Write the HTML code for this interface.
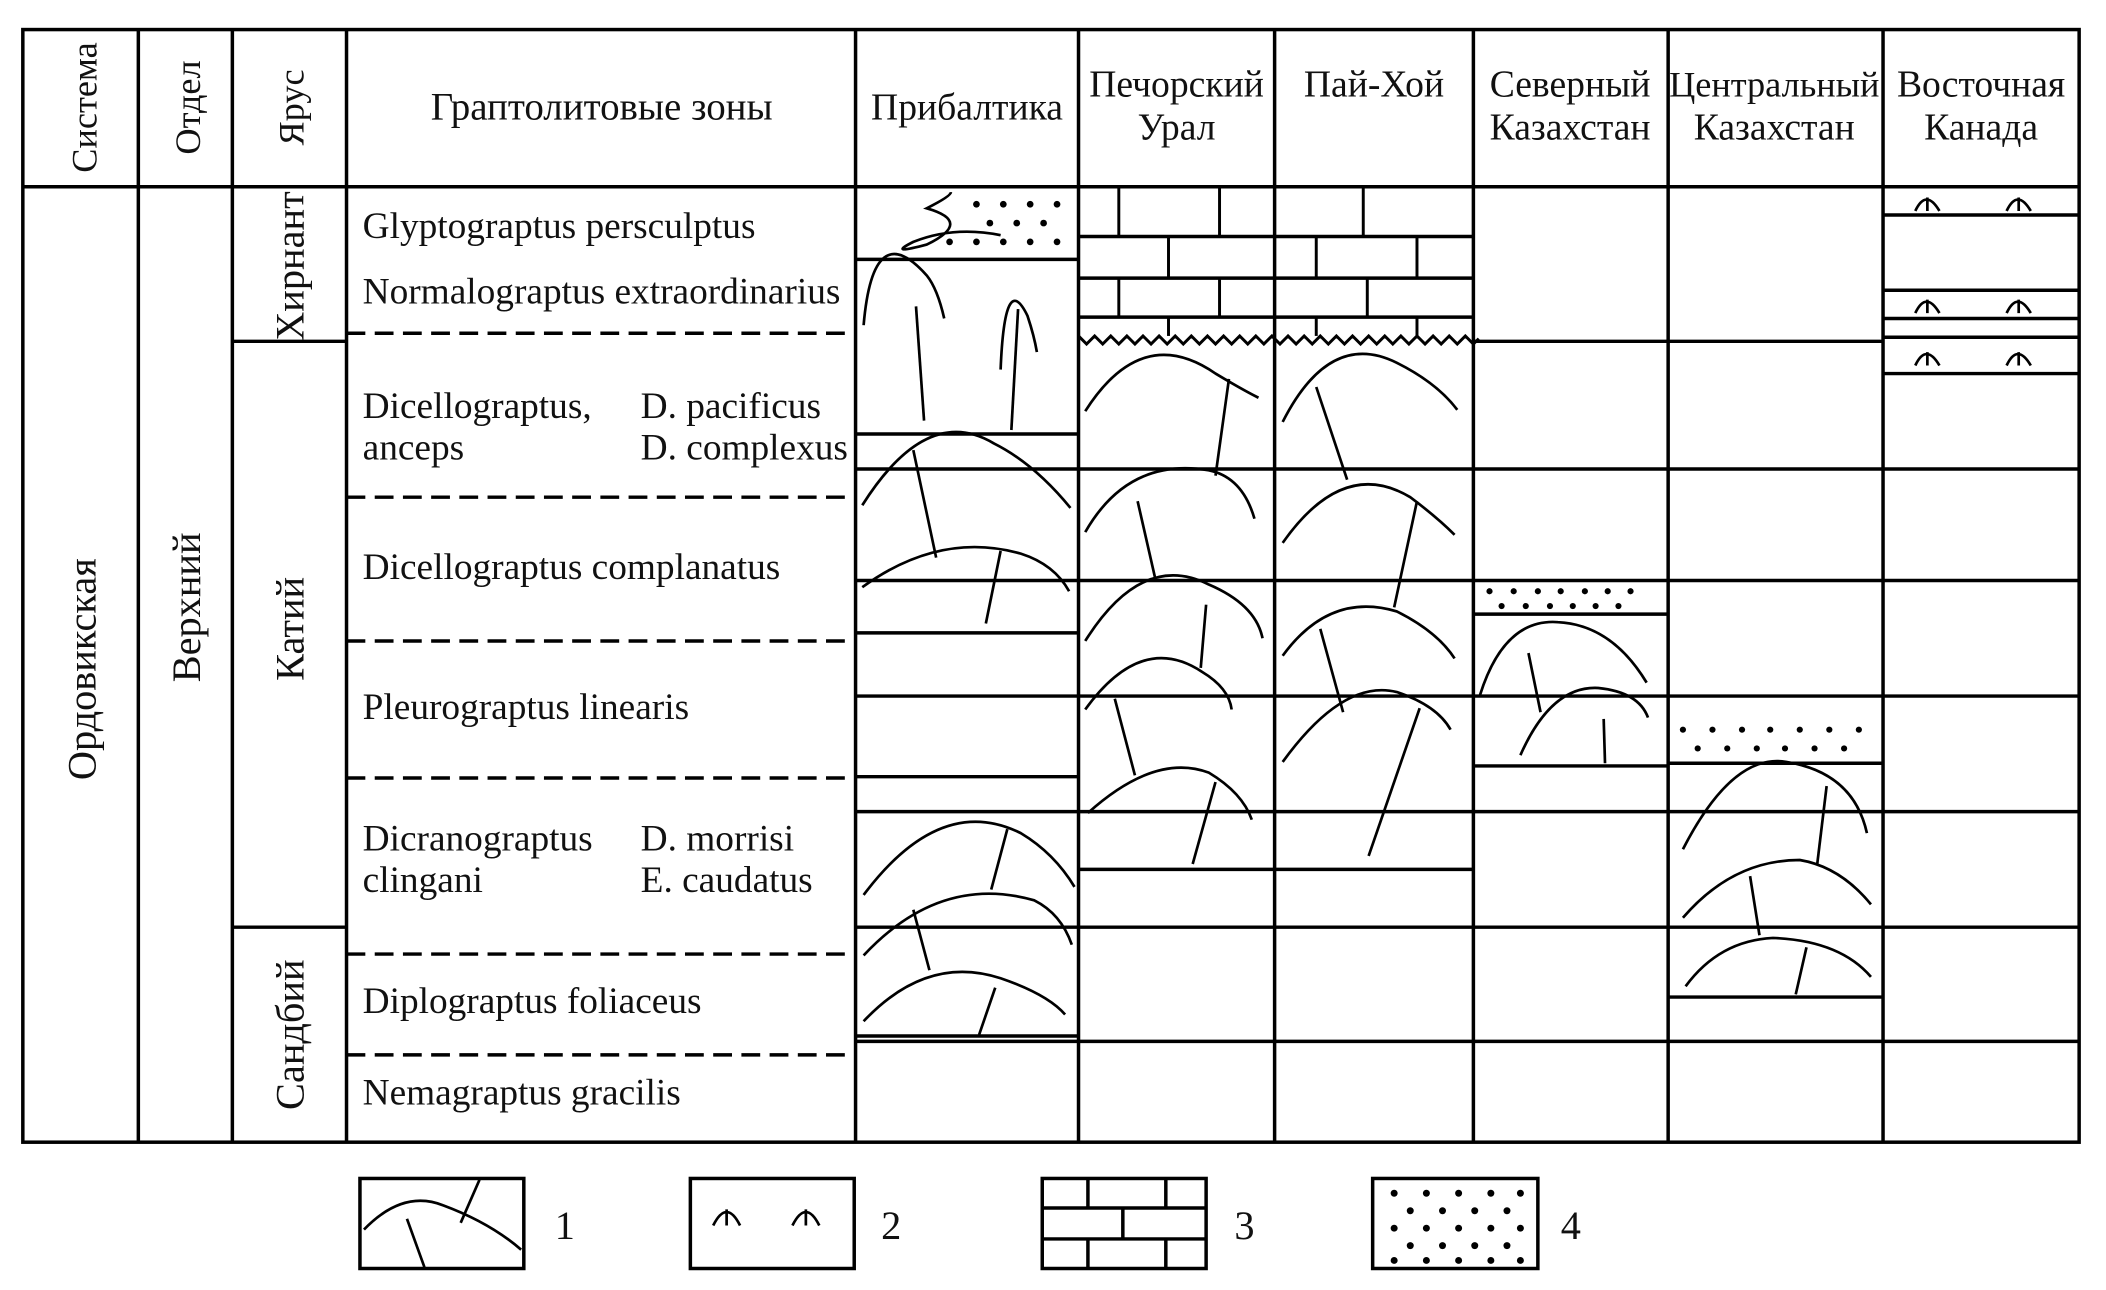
<!DOCTYPE html>
<html><head><meta charset="utf-8"><style>
html,body{margin:0;padding:0;background:#fff}
svg{display:block}
text{font-family:"Liberation Serif",serif;fill:#111}
</style></head><body>
<svg width="2106" height="1290" viewBox="0 0 1568 960" preserveAspectRatio="none" xmlns="http://www.w3.org/2000/svg">
<g stroke="#000" fill="none" stroke-width="2.6">
<rect x="17" y="22" width="1531" height="828"/>
<line x1="103" y1="22" x2="103" y2="850"/><line x1="173" y1="22" x2="173" y2="850"/>
<line x1="258" y1="22" x2="258" y2="850"/><line x1="637" y1="22" x2="637" y2="850"/>
<line x1="803" y1="22" x2="803" y2="850"/><line x1="949" y1="22" x2="949" y2="850"/>
<line x1="1097" y1="22" x2="1097" y2="850"/><line x1="1242" y1="22" x2="1242" y2="850"/>
<line x1="1402" y1="22" x2="1402" y2="850"/>
<line x1="17" y1="139" x2="1548" y2="139"/>
<line x1="173" y1="254" x2="258" y2="254"/><line x1="173" y1="690" x2="258" y2="690"/>
<line x1="803" y1="349" x2="1548" y2="349"/><line x1="637" y1="432" x2="1548" y2="432"/>
<line x1="803" y1="518" x2="1548" y2="518"/><line x1="637" y1="604" x2="1548" y2="604"/>
<line x1="803" y1="690" x2="1548" y2="690"/><line x1="637" y1="775" x2="1548" y2="775"/>
<line x1="1097" y1="254" x2="1402" y2="254"/>
<line x1="637" y1="193" x2="803" y2="193"/><line x1="637" y1="323" x2="803" y2="323"/>
<line x1="637" y1="349" x2="803" y2="349"/><line x1="637" y1="471" x2="803" y2="471"/>
<line x1="637" y1="518" x2="803" y2="518"/><line x1="637" y1="578" x2="803" y2="578"/>
<line x1="637" y1="690" x2="803" y2="690"/><line x1="637" y1="771" x2="803" y2="771"/>
<path d="M745 175 Q710 168 680 180 Q660 190 690 182 Q725 165 690 155 Q708 146 708 143" stroke-width="2"/>
<line x1="803" y1="176" x2="1097" y2="176"/><line x1="803" y1="207" x2="1097" y2="207"/><line x1="803" y1="236" x2="1097" y2="236"/>
<g stroke-width="2.2">
<line x1="833" y1="139" x2="833" y2="176"/><line x1="908" y1="139" x2="908" y2="176"/><line x1="1015" y1="139" x2="1015" y2="176"/>
<line x1="870" y1="176" x2="870" y2="207"/><line x1="980" y1="176" x2="980" y2="207"/><line x1="1055" y1="176" x2="1055" y2="207"/>
<line x1="833" y1="207" x2="833" y2="236"/><line x1="908" y1="207" x2="908" y2="236"/><line x1="1018" y1="207" x2="1018" y2="236"/>
<line x1="870" y1="236" x2="870" y2="250"/><line x1="980" y1="236" x2="980" y2="250"/><line x1="1055" y1="236" x2="1055" y2="250"/>
<path d="M803 250 l6 6 l6 -6 l6 6 l6 -6 l6 6 l6 -6 l6 6 l6 -6 l6 6 l6 -6 l6 6 l6 -6 l6 6 l6 -6 l6 6 l6 -6 l6 6 l6 -6 l6 6 l6 -6 l6 6 l6 -6 l6 6 l6 -6 l6 6 l6 -6 l6 6 l6 -6 l6 6 l6 -6 l6 6 l6 -6 l6 6 l6 -6 l6 6 l6 -6 l6 6 l6 -6 l6 6 l6 -6 l6 6 l6 -6 l6 6 l6 -6 l6 6 l6 -6 l6 6 l6 -6 l6 6 l4 -4"/>
</g>
<line x1="803" y1="647" x2="1097" y2="647"/>
<line x1="1097" y1="457" x2="1242" y2="457"/><line x1="1097" y1="570" x2="1242" y2="570"/>
<line x1="1242" y1="568" x2="1402" y2="568"/><line x1="1242" y1="742" x2="1402" y2="742"/>
<line x1="1402" y1="160" x2="1548" y2="160"/><line x1="1402" y1="216" x2="1548" y2="216"/>
<line x1="1402" y1="237" x2="1548" y2="237"/><line x1="1402" y1="251" x2="1548" y2="251"/>
<line x1="1402" y1="278" x2="1548" y2="278"/>
</g>
<g stroke="#000" stroke-width="2.6" stroke-dasharray="14,7">
<line x1="258" y1="248" x2="637" y2="248"/><line x1="258" y1="370" x2="637" y2="370"/>
<line x1="258" y1="477" x2="637" y2="477"/><line x1="258" y1="579" x2="637" y2="579"/>
<line x1="258" y1="710" x2="637" y2="710"/><line x1="258" y1="785" x2="637" y2="785"/>
</g>
<g stroke="#000" fill="none" stroke-width="2">
<path d="M643 242 Q650 160 690 205 Q698 215 703 237"/><line x1="682" y1="228" x2="688" y2="313"/>
<path d="M745 275 Q748 200 765 235 Q770 250 772 262"/><line x1="758" y1="230" x2="753" y2="320"/>
<path d="M642 376 Q690 300 740 330 Q770 345 797 378"/><line x1="680" y1="335" x2="697" y2="415"/>
<path d="M642 437 Q700 395 760 412 Q785 420 796 440"/><line x1="745" y1="410" x2="734" y2="464"/>
<path d="M643 666 Q700 590 760 620 Q785 635 800 660"/><line x1="750" y1="617" x2="738" y2="662"/>
<path d="M643 711 Q700 650 770 670 Q790 680 798 703"/><line x1="680" y1="677" x2="692" y2="722"/>
<path d="M643 760 Q690 710 745 728 Q780 740 793 755"/><line x1="741" y1="735" x2="729" y2="770"/>
<path d="M808 306 Q850 240 905 278 Q925 290 937 296"/><line x1="915" y1="282" x2="905" y2="354"/>
<path d="M955 314 Q990 245 1040 270 Q1070 285 1085 305"/><line x1="980" y1="288" x2="1003" y2="357"/>
<path d="M808 396 Q840 340 900 350 Q925 355 934 386"/><line x1="847" y1="373" x2="860" y2="430"/>
<path d="M955 404 Q1000 340 1050 370 Q1070 385 1083 398"/><line x1="1055" y1="373" x2="1038" y2="452"/>
<path d="M808 477 Q850 410 900 435 Q935 450 940 475"/><line x1="898" y1="450" x2="894" y2="497"/>
<path d="M955 488 Q990 440 1040 455 Q1070 470 1083 490"/><line x1="983" y1="468" x2="1000" y2="530"/>
<path d="M808 528 Q850 470 895 500 Q915 512 917 528"/><line x1="830" y1="520" x2="845" y2="577"/>
<path d="M810 605 Q860 560 900 575 Q925 590 932 610"/><line x1="905" y1="582" x2="888" y2="643"/>
<path d="M955 567 Q1000 505 1040 515 Q1070 525 1080 543"/><line x1="1057" y1="527" x2="1019" y2="637"/>
<path d="M1102 517 Q1120 460 1160 463 Q1200 465 1226 508"/><line x1="1138" y1="486" x2="1147" y2="530"/>
<path d="M1132 562 Q1155 510 1190 512 Q1220 515 1227 534"/><line x1="1194" y1="535" x2="1195" y2="568"/>
<path d="M1253 632 Q1290 560 1330 567 Q1380 575 1390 620"/><line x1="1360" y1="585" x2="1353" y2="643"/>
<path d="M1253 683 Q1290 640 1340 640 Q1370 645 1393 673"/><line x1="1303" y1="652" x2="1310" y2="696"/>
<path d="M1255 734 Q1280 700 1320 698 Q1370 700 1393 727"/><line x1="1345" y1="705" x2="1337" y2="740"/>
</g>
<g stroke="#000" fill="none" stroke-width="2">
<path d="M1426 157 Q1434 140 1444 157 M1435 147 V157"/><path d="M1494 157 Q1502 140 1512 157 M1503 147 V157"/>
<path d="M1426 233 Q1434 216 1444 233 M1435 223 V233"/><path d="M1494 233 Q1502 216 1512 233 M1503 223 V233"/>
<path d="M1426 272 Q1434 255 1444 272 M1435 262 V272"/><path d="M1494 272 Q1502 255 1512 272 M1503 262 V272"/>
</g>
<g fill="#000">
<circle cx="727" cy="152" r="2.5"/><circle cx="747" cy="152" r="2.5"/><circle cx="767" cy="152" r="2.5"/><circle cx="787" cy="152" r="2.5"/>
<circle cx="737" cy="166" r="2.5"/><circle cx="757" cy="166" r="2.5"/><circle cx="777" cy="166" r="2.5"/>
<circle cx="707" cy="180" r="2.5"/><circle cx="727" cy="180" r="2.5"/><circle cx="747" cy="180" r="2.5"/><circle cx="767" cy="180" r="2.5"/><circle cx="787" cy="180" r="2.5"/>
<circle cx="1109" cy="440" r="2.3"/><circle cx="1127" cy="440" r="2.3"/><circle cx="1145" cy="440" r="2.3"/><circle cx="1162" cy="440" r="2.3"/><circle cx="1180" cy="440" r="2.3"/><circle cx="1197" cy="440" r="2.3"/><circle cx="1214" cy="440" r="2.3"/>
<circle cx="1118" cy="451" r="2.3"/><circle cx="1136" cy="451" r="2.3"/><circle cx="1154" cy="451" r="2.3"/><circle cx="1171" cy="451" r="2.3"/><circle cx="1188" cy="451" r="2.3"/><circle cx="1205" cy="451" r="2.3"/>
<circle cx="1253" cy="543" r="2.3"/><circle cx="1275" cy="543" r="2.3"/><circle cx="1297" cy="543" r="2.3"/><circle cx="1318" cy="543" r="2.3"/><circle cx="1340" cy="543" r="2.3"/><circle cx="1362" cy="543" r="2.3"/><circle cx="1384" cy="543" r="2.3"/>
<circle cx="1264" cy="557" r="2.3"/><circle cx="1286" cy="557" r="2.3"/><circle cx="1308" cy="557" r="2.3"/><circle cx="1329" cy="557" r="2.3"/><circle cx="1351" cy="557" r="2.3"/><circle cx="1373" cy="557" r="2.3"/>
</g>
<g font-size="29">
<text transform="translate(72,80) rotate(-90)" text-anchor="middle" font-size="27">Система</text>
<text transform="translate(149,80) rotate(-90)" text-anchor="middle" font-size="27">Отдел</text>
<text transform="translate(226,80) rotate(-90)" text-anchor="middle" font-size="27">Ярус</text>
<text x="448" y="89" text-anchor="middle">Граптолитовые зоны</text>
<text x="720" y="89" text-anchor="middle" font-size="28">Прибалтика</text>
<text x="876" y="72" text-anchor="middle" font-size="28">Печорский</text><text x="876" y="104" text-anchor="middle" font-size="28">Урал</text>
<text x="1023" y="72" text-anchor="middle" font-size="28">Пай-Хой</text>
<text x="1169" y="72" text-anchor="middle" font-size="28">Северный</text><text x="1169" y="104" text-anchor="middle" font-size="28">Казахстан</text>
<text x="1321" y="72" text-anchor="middle" font-size="27">Центральный</text><text x="1321" y="104" text-anchor="middle" font-size="28">Казахстан</text>
<text x="1475" y="72" text-anchor="middle" font-size="28">Восточная</text><text x="1475" y="104" text-anchor="middle" font-size="28">Канада</text>
<text transform="translate(71,498) rotate(-90)" text-anchor="middle" font-size="30">Ордовикская</text>
<text transform="translate(149,452) rotate(-90)" text-anchor="middle" font-size="30">Верхний</text>
<text transform="translate(226,198) rotate(-90)" text-anchor="middle" font-size="30">Хирнант</text>
<text transform="translate(226,468) rotate(-90)" text-anchor="middle" font-size="30">Катий</text>
<text transform="translate(226,770) rotate(-90)" text-anchor="middle" font-size="30">Сандбий</text>
<g font-size="27.8">
<text x="270" y="177">Glyptograptus persculptus</text>
<text x="270" y="226">Normalograptus extraordinarius</text>
<text x="270" y="311">Dicellograptus,</text><text x="270" y="342">anceps</text>
<text x="477" y="311">D. pacificus</text><text x="477" y="342">D. complexus</text>
<text x="270" y="431">Dicellograptus complanatus</text>
<text x="270" y="535">Pleurograptus linearis</text>
<text x="270" y="633">Dicranograptus</text><text x="270" y="664">clingani</text>
<text x="477" y="633">D. morrisi</text><text x="477" y="664">E. caudatus</text>
<text x="270" y="754">Diplograptus foliaceus</text>
<text x="270" y="822">Nemagraptus gracilis</text>
</g>
<text x="413" y="922" font-size="30">1</text><text x="656" y="922" font-size="30">2</text>
<text x="919" y="922" font-size="30">3</text><text x="1162" y="922" font-size="30">4</text>
</g>
<g stroke="#000" fill="none" stroke-width="2.6">
<rect x="268" y="877" width="122" height="67"/>
<rect x="514" y="877" width="122" height="67"/>
<rect x="776" y="877" width="122" height="67"/>
<rect x="1022" y="877" width="123" height="67"/>
<path d="M271 915 Q300 885 330 897 Q365 910 388 930" stroke-width="2"/>
<line x1="303" y1="907" x2="316" y2="943" stroke-width="2"/><line x1="357" y1="878" x2="343" y2="910" stroke-width="2"/>
<g stroke-width="2"><path d="M531 912 Q541 892 551 912 M541 900 V912"/><path d="M590 912 Q600 892 610 912 M600 900 V912"/></g>
<line x1="776" y1="899" x2="898" y2="899"/><line x1="776" y1="922" x2="898" y2="922"/>
<line x1="810" y1="877" x2="810" y2="899"/><line x1="868" y1="877" x2="868" y2="899"/>
<line x1="836" y1="899" x2="836" y2="922"/>
<line x1="810" y1="922" x2="810" y2="944"/><line x1="868" y1="922" x2="868" y2="944"/>
</g>
<g fill="#000">
<circle cx="1038" cy="888" r="2.6"/><circle cx="1062" cy="888" r="2.6"/><circle cx="1086" cy="888" r="2.6"/><circle cx="1110" cy="888" r="2.6"/><circle cx="1132" cy="888" r="2.6"/>
<circle cx="1050" cy="901" r="2.6"/><circle cx="1074" cy="901" r="2.6"/><circle cx="1098" cy="901" r="2.6"/><circle cx="1122" cy="901" r="2.6"/>
<circle cx="1038" cy="914" r="2.6"/><circle cx="1062" cy="914" r="2.6"/><circle cx="1086" cy="914" r="2.6"/><circle cx="1110" cy="914" r="2.6"/><circle cx="1132" cy="914" r="2.6"/>
<circle cx="1050" cy="927" r="2.6"/><circle cx="1074" cy="927" r="2.6"/><circle cx="1098" cy="927" r="2.6"/><circle cx="1122" cy="927" r="2.6"/>
<circle cx="1038" cy="938" r="2.6"/><circle cx="1062" cy="938" r="2.6"/><circle cx="1086" cy="938" r="2.6"/><circle cx="1110" cy="938" r="2.6"/><circle cx="1132" cy="938" r="2.6"/>
</g>
</svg>
</body></html>
